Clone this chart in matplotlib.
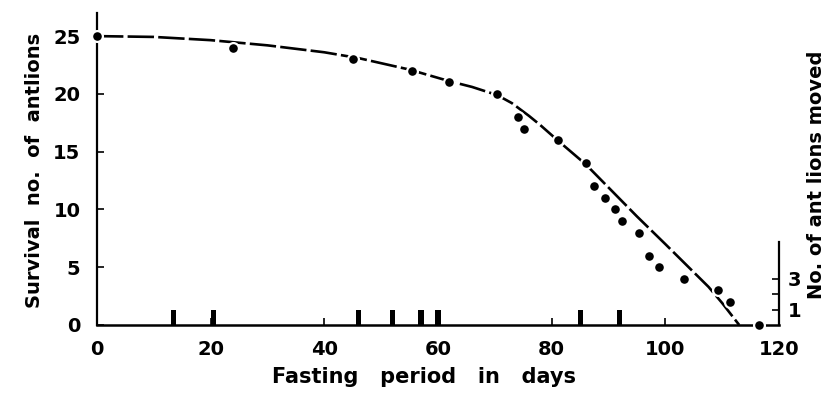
import matplotlib
matplotlib.use('Agg')
import matplotlib.pyplot as plt

# survival counts (dots)
days = [0, 24, 45, 55.5, 62, 70.4, 74, 75.2, 81.2, 86, 87.5, 89.3, 91.2, 92.3,
        95.4, 97.2, 98.9, 103.2, 109.2, 111.3, 116.5]
survivors = [25, 24, 23, 22, 21, 20, 18, 17, 16, 14, 12, 11, 10, 9,
             8, 6, 5, 4, 3, 2, 0]

# fitted curve
curve_days = [0, 10, 20, 30, 40, 46, 55, 62, 66, 70.4, 73, 76, 78, 81, 86, 90, 95,
              100, 107.6, 110, 113]
curve_vals = [25, 24.93, 24.65, 24.2, 23.6, 23.1, 22.1, 21.1, 20.6, 19.9, 19.2, 18.1,
              17.3, 16.0, 13.9, 11.9, 9.4, 7.0, 3.3, 1.9, 0]

# days on which an antlion moved
move_days = [13.5, 20.5, 46, 52, 57, 60, 85, 92]
move_counts = [1, 1, 1, 1, 1, 1, 1, 1]

tick_font = dict(family='DejaVu Sans', weight='bold', size=14)
label_font = dict(family='DejaVu Sans', weight='bold', size=14)

fig = plt.figure(figsize=(8.27, 4.01), dpi=100)
ax = fig.add_axes([97/827, 76/401, (779-97)/827, (325-13)/401])

ax.plot(curve_days, curve_vals, color='black', lw=1.9, dashes=(10, 1.6), zorder=2)
ax.plot(days, survivors, 'o', color='black', ms=7.8, mec='white', mew=1.6,
        clip_on=False, zorder=3)

ax.set_xlim(0, 120)
ax.set_ylim(0, 27)
ax.spines['top'].set_visible(False)
ax.spines['right'].set_visible(False)
ax.spines['left'].set_linewidth(1.6)
ax.spines['bottom'].set_linewidth(1.8)
ax.set_xticks(range(0, 121, 20))
ax.set_yticks(range(0, 26, 5))
ax.tick_params(direction='in', length=5, width=1.2)
ax.tick_params(axis='x', pad=11)
ax.tick_params(axis='y', pad=12)
for lab in ax.get_xticklabels() + ax.get_yticklabels():
    lab.set(**tick_font)

ax2 = ax.twinx()
ax2.bar(move_days, move_counts, width=0.9, color='black', zorder=2)
ax2.set_ylim(0, 312/15.5)
ax2.spines['top'].set_visible(False)
ax2.spines['left'].set_visible(False)
ax2.spines['bottom'].set_visible(False)
ax2.spines['right'].set_bounds(0, 5.35)
ax2.spines['right'].set_linewidth(1.6)
ax2.set_yticks([1, 2, 3])
ax2.set_yticklabels(['1', '', '3'])
ax2.tick_params(direction='in', length=5, width=1.2, pad=6)
for lab in ax2.get_yticklabels():
    lab.set(**tick_font)

fig.text(424/827, 1-377/401, 'Fasting   period   in   days', ha='center', va='center',
         family='DejaVu Sans', weight='bold', size=15)
fig.text(35/827, 1-170/401, 'Survival  no.  of  antlions', ha='center', va='center',
         rotation=90, **label_font)
fig.text(817/827, 1-175/401, 'No. of ant lions moved', ha='center', va='center',
         rotation=90, **label_font)

fig.savefig('out.png', dpi=100)
